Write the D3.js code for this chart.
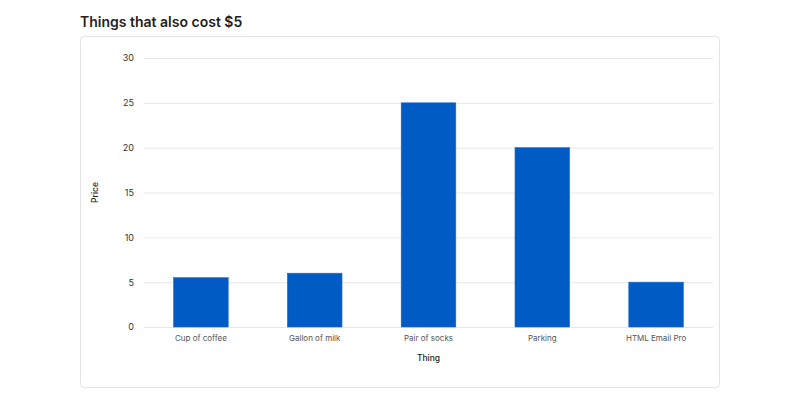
<!DOCTYPE html>
<html>
<head>
<meta charset="utf-8">
<script src="https://cdn.jsdelivr.net/npm/d3@7"></script>
<style>
  body { margin: 0; background: #fff; font-family: Inter, "Noto Sans", sans-serif; }
</style>
</head>
<body>
<div id="chart"></div>
<script>
var things = ["Cup of coffee", "Gallon of milk", "Pair of socks", "Parking", "HTML Email Pro"];
var prices = [5.5, 6, 25, 20, 5];
var yTicks = [0, 5, 10, 15, 20, 25, 30];

var WIDTH = 800, HEIGHT = 400;
var margin = { left: 144, right: 87, top: 58, bottom: 73 };

var svg = d3.select("#chart").append("svg")
    .attr("width", WIDTH)
    .attr("height", HEIGHT);

// title
svg.append("text")
    .attr("x", 80)
    .attr("y", 27)
    .attr("font-size", 14)
    .attr("font-weight", 600)
    .attr("fill", "#1f1f1f")
    .text("Things that also cost $5");

// card
svg.append("rect")
    .attr("x", 80.5)
    .attr("y", 36.5)
    .attr("width", 639)
    .attr("height", 351)
    .attr("rx", 4)
    .attr("fill", "#fff")
    .attr("stroke", "#e4e4e4");

var x = d3.scaleBand()
    .domain(things)
    .range([margin.left, WIDTH - margin.right])
    .paddingInner(0.52)
    .paddingOuter(0.26);

var y = d3.scaleLinear()
    .domain([0, 30])
    .range([HEIGHT - margin.bottom, margin.top]);

// grid + y labels
var yAxis = d3.axisLeft(y)
    .tickValues(yTicks)
    .tickSize(-(WIDTH - margin.left - margin.right))
    .tickPadding(10);

var gy = svg.append("g")
    .attr("transform", "translate(" + margin.left + ",0)")
    .call(yAxis);
gy.select(".domain").remove();
gy.selectAll(".tick line").attr("stroke", "#e8e8e8");
gy.selectAll(".tick text")
    .attr("font-family", "Inter, sans-serif")
    .attr("font-size", 9)
    .attr("fill", "#333");

// bars
svg.selectAll(".bar")
    .data(things)
    .enter().append("rect")
    .attr("class", "bar")
    .attr("x", function (d) { return x(d); })
    .attr("y", function (d, i) { return y(prices[i]); })
    .attr("width", x.bandwidth())
    .attr("height", function (d, i) { return y(0) - y(prices[i]); })
    .attr("fill", "#005bc4")
    .attr("stroke", "#1a6bd0")
    .attr("stroke-width", 0.6);

// x labels
var xAxis = d3.axisBottom(x).tickSize(0).tickPadding(8);
var gx = svg.append("g")
    .attr("transform", "translate(0," + y(0) + ")")
    .call(xAxis);
gx.select(".domain").remove();
gx.selectAll(".tick text")
    .attr("font-family", "Inter, sans-serif")
    .attr("font-size", 8)
    .attr("fill", "#555");

// axis titles
svg.append("text")
    .attr("x", (margin.left + WIDTH - margin.right) / 2)
    .attr("y", 361)
    .attr("text-anchor", "middle")
    .attr("font-size", 8.5)
    .attr("font-weight", 500)
    .attr("fill", "#222")
    .text("Thing");

svg.append("text")
    .attr("transform", "translate(98," + (y(15)) + ") rotate(-90)")
    .attr("text-anchor", "middle")
    .attr("font-size", 8.5)
    .attr("font-weight", 500)
    .attr("fill", "#222")
    .text("Price");
</script>
</body>
</html>
